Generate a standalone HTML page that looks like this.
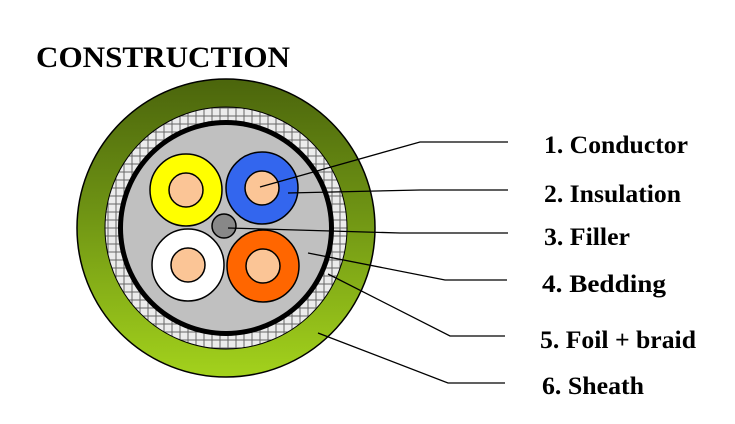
<!DOCTYPE html>
<html><head><style>body{margin:0;background:#fff}svg{display:block}</style></head><body>
<svg width="735" height="424" viewBox="0 0 735 424" xmlns="http://www.w3.org/2000/svg" font-family="Liberation Serif, serif" font-weight="bold">
<defs>
<linearGradient id="g" x1="0" y1="0" x2="0" y2="1">
<stop offset="0" stop-color="#4b650c"/><stop offset="0.45" stop-color="#6f9414"/><stop offset="1" stop-color="#a3d21c"/>
</linearGradient>
<pattern id="b" width="8" height="8" patternUnits="userSpaceOnUse">
<rect width="8" height="8" fill="#ececec"/>
<path d="M0 4h4V0M4 8V4h4" stroke="#666" stroke-width="1" fill="none"/>
</pattern>
</defs>
<text x="36" y="67" font-size="30" textLength="254" lengthAdjust="spacingAndGlyphs">CONSTRUCTION</text>
<circle cx="226" cy="228" r="149" fill="url(#g)" stroke="#000" stroke-width="1.5"/>
<circle cx="226" cy="228" r="121" fill="url(#b)" stroke="#000" stroke-width="1"/>
<circle cx="226" cy="228" r="108" fill="#000"/>
<circle cx="226" cy="228" r="103" fill="#c0c0c0"/>
<g stroke="#000" stroke-width="1.5">
<circle cx="186" cy="190" r="36" fill="#ffff00"/><circle cx="186" cy="190" r="17" fill="#fbc596"/>
<circle cx="262" cy="188" r="36" fill="#3366ee"/><circle cx="262" cy="188" r="17" fill="#fbc596"/>
<circle cx="188" cy="265" r="36" fill="#fff"/><circle cx="188" cy="265" r="17" fill="#fbc596"/>
<circle cx="263" cy="266" r="36" fill="#ff6600"/><circle cx="263" cy="266" r="17" fill="#fbc596"/>
<circle cx="224" cy="226" r="12" fill="#888"/>
</g>
<g stroke="#000" stroke-width="1.3" fill="none">
<polyline points="260,187 420,142 508,142"/>
<polyline points="288,193 420,190 508,190"/>
<polyline points="228,228 400,233 508,233"/>
<polyline points="308,253 445,280 507,280"/>
<polyline points="328,274 450,336 505,336"/>
<polyline points="318,333 448,383 505,383"/>
</g>
<g font-size="25" fill="#000" lengthAdjust="spacingAndGlyphs">
<text x="544" y="153" textLength="144" lengthAdjust="spacingAndGlyphs">1. Conductor</text>
<text x="544" y="202" textLength="137" lengthAdjust="spacingAndGlyphs">2. Insulation</text>
<text x="544" y="245" textLength="86" lengthAdjust="spacingAndGlyphs">3. Filler</text>
<text x="542" y="292" textLength="124" lengthAdjust="spacingAndGlyphs">4.  Bedding</text>
<text x="540" y="348" textLength="156" lengthAdjust="spacingAndGlyphs">5. Foil + braid</text>
<text x="542" y="394" textLength="102" lengthAdjust="spacingAndGlyphs">6. Sheath</text>
</g>
</svg>
</body></html>
